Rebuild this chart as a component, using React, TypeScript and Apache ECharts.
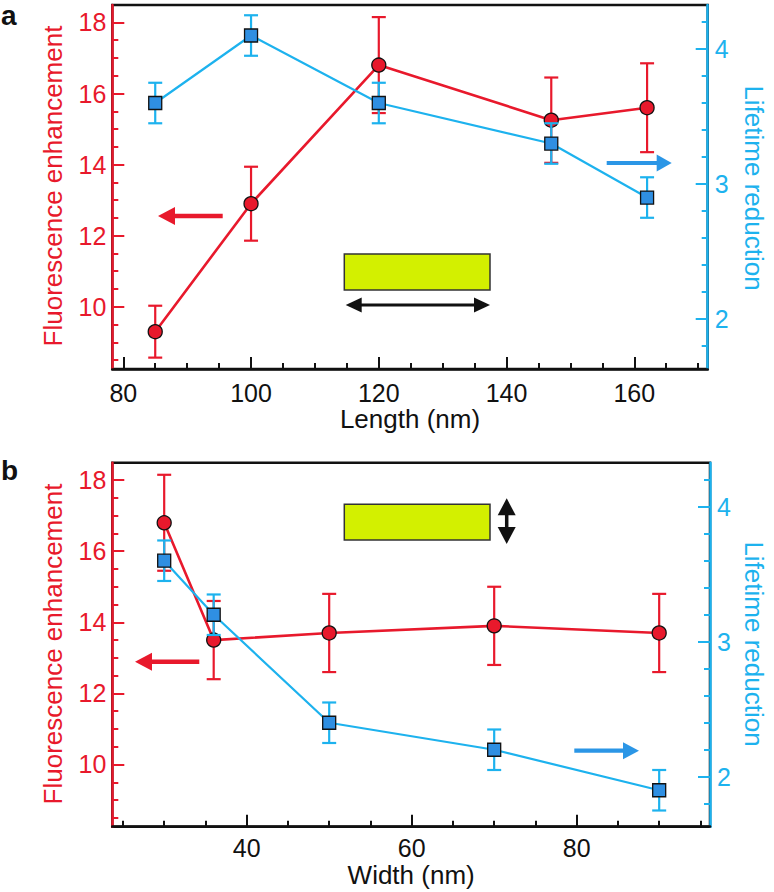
import React, { useEffect, useRef } from "react";
import * as echarts from "echarts";

// ---------- data ----------
const lengthNm = [85, 100, 120, 147, 162];
const fluorByLength = [9.3, 12.9, 16.8, 15.25, 15.6];
const fluorByLengthErr = [0.73, 1.04, 1.35, 1.2, 1.25];
const lifetimeByLength = [3.6, 4.1, 3.6, 3.3, 2.9];
const lifetimeByLengthErr = [0.15, 0.15, 0.15, 0.15, 0.15];

const widthNm = [30, 36, 50, 70, 90];
const fluorByWidth = [16.8, 13.5, 13.7, 13.9, 13.7];
const fluorByWidthErr = [1.35, 1.1, 1.1, 1.1, 1.1];
const lifetimeByWidth = [3.6, 3.2, 2.4, 2.2, 1.9];
const lifetimeByWidthErr = [0.15, 0.15, 0.15, 0.15, 0.15];

// ---------- ticks ----------
const lengthTicks = [80, 100, 120, 140, 160];
const lengthMinorTicks = [85, 90, 95, 105, 110, 115, 125, 130, 135, 145, 150, 155, 165, 170];
const widthTicks = [40, 60, 80];
const widthMinorTicks = [25, 30, 35, 45, 50, 55, 65, 70, 75, 85, 90, 95];
const fluorTicks = [10, 12, 14, 16, 18];
const fluorMinorTicks = [8.5, 9, 9.5, 10.5, 11, 11.5, 12.5, 13, 13.5, 14.5, 15, 15.5, 16.5, 17, 17.5];
const lifetimeTicks = [2, 3, 4];
const lifetimeMinorTicks = [1.8, 2.2, 2.4, 2.6, 2.8, 3.2, 3.4, 3.6, 3.8, 4.2];

const RED = "#e8192c";
const CYAN = "#1db2ee";
const SQUARE = "#2f8fe2";
const ARROW_BLUE = "#2b96e6";
const YELLOW = "#d3f000";
const FONT = "'Liberation Sans', Arial, Helvetica, sans-serif";

const fluorRange = [8.25, 18.49];
const lifetimeRange = [1.63, 4.326];

function mainX(gridIndex: number, min: number, max: number, ticks: number[], name: string, margin: number, nameGap: number) {
  return {
    type: "value", gridIndex, min, max, position: "bottom",
    name, nameLocation: "middle", nameGap,
    nameTextStyle: { fontSize: 26, color: "#111", fontFamily: FONT },
    axisLine: { show: true, onZero: false, lineStyle: { color: "#111", width: 2.5 } },
    axisTick: { show: true, inside: true, length: 12, customValues: ticks, lineStyle: { color: "#111", width: 2 } },
    axisLabel: { show: true, customValues: ticks, margin, fontSize: 25, color: "#111", fontFamily: FONT },
    splitLine: { show: false },
  };
}
function minorX(gridIndex: number, min: number, max: number, ticks: number[]) {
  return {
    type: "value", gridIndex, min, max, position: "bottom",
    axisLine: { show: false, onZero: false },
    axisTick: { show: true, inside: true, length: 6, customValues: ticks, lineStyle: { color: "#111", width: 2 } },
    axisLabel: { show: false },
    splitLine: { show: false },
  };
}
function mainY(gridIndex: number, range: number[], ticks: number[], pos: string, color: string, margin: number) {
  return {
    type: "value", gridIndex, min: range[0], max: range[1], position: pos,
    axisLine: { show: true, onZero: false, lineStyle: { color, width: 2.5 } },
    axisTick: { show: true, inside: true, length: 12, customValues: ticks, lineStyle: { color, width: 2 } },
    axisLabel: { show: true, customValues: ticks, margin, fontSize: 25, color, fontFamily: FONT },
    splitLine: { show: false },
  };
}
function minorY(gridIndex: number, range: number[], ticks: number[], pos: string, color: string) {
  return {
    type: "value", gridIndex, min: range[0], max: range[1], position: pos,
    axisLine: { show: false, onZero: false },
    axisTick: { show: true, inside: true, length: 6, customValues: ticks, lineStyle: { color, width: 2 } },
    axisLabel: { show: false },
    splitLine: { show: false },
  };
}

function errorBars(xs: number[], ys: number[], errs: number[], xAxisIndex: number, yAxisIndex: number, color: string, z: number) {
  return {
    type: "custom", xAxisIndex, yAxisIndex, z, silent: true,
    data: xs.map((x, i) => [x, ys[i], errs[i]]),
    encode: { x: 0, y: 1 },
    renderItem: (_params: any, api: any) => {
      const x = api.value(0), y = api.value(1), e = api.value(2);
      const top = api.coord([x, y + e]);
      const bot = api.coord([x, y - e]);
      const hw = 7;
      const style = { stroke: color, lineWidth: 2.2, fill: "none" };
      return {
        type: "group",
        children: [
          { type: "line", shape: { x1: top[0], y1: top[1], x2: bot[0], y2: bot[1] }, style },
          { type: "line", shape: { x1: top[0] - hw, y1: top[1], x2: top[0] + hw, y2: top[1] }, style },
          { type: "line", shape: { x1: bot[0] - hw, y1: bot[1], x2: bot[0] + hw, y2: bot[1] }, style },
        ],
      };
    },
  };
}

function lineSeries(xs: number[], ys: number[], xAxisIndex: number, yAxisIndex: number, kind: "circle" | "rect", z: number) {
  const isCircle = kind === "circle";
  return {
    type: "line", xAxisIndex, yAxisIndex, z,
    data: xs.map((x, i) => [x, ys[i]]),
    symbol: kind, symbolSize: isCircle ? 14 : 13,
    lineStyle: { color: isCircle ? RED : CYAN, width: isCircle ? 2.6 : 2.2 },
    itemStyle: { color: isCircle ? RED : SQUARE, borderColor: "#111", borderWidth: 1.3 },
    emphasis: { disabled: true },
  };
}

function arrowHead(tipX: number, tipY: number, dx: number, dy: number, len: number, half: number, color: string) {
  const bx = tipX - dx * len, by = tipY - dy * len;
  const px = -dy * half, py = dx * half;
  return { type: "polygon", shape: { points: [[tipX, tipY], [bx + px, by + py], [bx - px, by - py]] }, style: { fill: color } };
}
function hArrow(x1: number, x2: number, y: number, color: string, w: number, headLen: number, headHalf: number) {
  const dir = x2 > x1 ? 1 : -1;
  return [
    { type: "line", shape: { x1, y1: y, x2: x2 - dir * (headLen - 1), y2: y }, style: { stroke: color, lineWidth: w } },
    arrowHead(x2, y, dir, 0, headLen, headHalf, color),
  ];
}
function hDoubleArrow(x1: number, x2: number, y: number, color: string, w: number, headLen: number, headHalf: number) {
  return [
    { type: "line", shape: { x1: x1 + headLen - 1, y1: y, x2: x2 - headLen + 1, y2: y }, style: { stroke: color, lineWidth: w } },
    arrowHead(x1, y, -1, 0, headLen, headHalf, color),
    arrowHead(x2, y, 1, 0, headLen, headHalf, color),
  ];
}
function vDoubleArrow(x: number, y1: number, y2: number, color: string, w: number, headLen: number, headHalf: number) {
  return [
    { type: "line", shape: { x1: x, y1: y1 + headLen - 1, x2: x, y2: y2 - headLen + 1 }, style: { stroke: color, lineWidth: w } },
    arrowHead(x, y1, 0, -1, headLen, headHalf, color),
    arrowHead(x, y2, 0, 1, headLen, headHalf, color),
  ];
}

export default function App() {
  const ref = useRef<HTMLDivElement>(null);
  useEffect(() => {
    if (!ref.current) return;
    const chart = echarts.init(ref.current, null, { renderer: "svg" });
    const gridA = { left: 112.3, right: 66.3, top: 5, height: 364 };
    const gridB = { left: 112.3, right: 64, top: 462.7, height: 364 };
    const gridStyle = { show: true, borderColor: "#111", borderWidth: 2.5, backgroundColor: "transparent" };

    const graphic: any[] = [
      { type: "text", x: 1, y: 1, style: { text: "a", fontSize: 28, fontWeight: "bold", fontFamily: FONT, fill: "#111", textVerticalAlign: "top" } },
      { type: "text", x: 1, y: 456, style: { text: "b", fontSize: 28, fontWeight: "bold", fontFamily: FONT, fill: "#111", textVerticalAlign: "top" } },
      { type: "text", x: 53, y: 186, rotation: Math.PI / 2, style: { text: "Fluorescence enhancement", fontSize: 26, fontFamily: FONT, fill: RED, textAlign: "center", textVerticalAlign: "middle" } },
      { type: "text", x: 53, y: 644, rotation: Math.PI / 2, style: { text: "Fluorescence enhancement", fontSize: 26, fontFamily: FONT, fill: RED, textAlign: "center", textVerticalAlign: "middle" } },
      { type: "text", x: 754, y: 188, rotation: -Math.PI / 2, style: { text: "Lifetime reduction", fontSize: 26, fontFamily: FONT, fill: CYAN, textAlign: "center", textVerticalAlign: "middle" } },
      { type: "text", x: 754, y: 644, rotation: -Math.PI / 2, style: { text: "Lifetime reduction", fontSize: 26, fontFamily: FONT, fill: CYAN, textAlign: "center", textVerticalAlign: "middle" } },
      // panel a annotations
      { type: "rect", shape: { x: 344.3, y: 254, width: 145.7, height: 36 }, style: { fill: YELLOW, stroke: "#333", lineWidth: 1.5 } },
      ...hArrow(222.7, 158, 216, RED, 4.5, 17, 9),
      ...hArrow(606.7, 671.7, 163, ARROW_BLUE, 4.2, 15, 8.5),
      ...hDoubleArrow(345.7, 490, 305, "#111", 3, 16, 7.5),
      // panel b annotations
      { type: "rect", shape: { x: 344.3, y: 504.3, width: 145.7, height: 35.7 }, style: { fill: YELLOW, stroke: "#333", lineWidth: 1.5 } },
      ...hArrow(199.3, 135, 661.7, RED, 4.5, 17, 9),
      ...hArrow(574.3, 639, 750.7, ARROW_BLUE, 4.2, 16, 8.5),
      ...vDoubleArrow(506.7, 498.3, 544, "#111", 3.5, 17, 9),
    ];

    const option: any = {
      animation: false,
      textStyle: { fontFamily: FONT },
      grid: [{ ...gridA, ...gridStyle }, { ...gridB, ...gridStyle }],
      xAxis: [
        mainX(0, 78.28, 171.49, lengthTicks, "Length (nm)", 11, 35),
        minorX(0, 78.28, 171.49, lengthMinorTicks),
        mainX(1, 23.71, 96.16, widthTicks, "Width (nm)", 9, 28),
        minorX(1, 23.71, 96.16, widthMinorTicks),
      ],
      yAxis: [
        mainY(0, fluorRange, fluorTicks, "left", RED, 6),
        minorY(0, fluorRange, fluorMinorTicks, "left", RED),
        mainY(0, lifetimeRange, lifetimeTicks, "right", CYAN, 7),
        minorY(0, lifetimeRange, lifetimeMinorTicks, "right", CYAN),
        mainY(1, fluorRange, fluorTicks, "left", RED, 6),
        minorY(1, fluorRange, fluorMinorTicks, "left", RED),
        mainY(1, lifetimeRange, lifetimeTicks, "right", CYAN, 7),
        minorY(1, lifetimeRange, lifetimeMinorTicks, "right", CYAN),
      ],
      series: [
        errorBars(lengthNm, fluorByLength, fluorByLengthErr, 0, 0, RED, 2),
        lineSeries(lengthNm, fluorByLength, 0, 0, "circle", 3),
        errorBars(lengthNm, lifetimeByLength, lifetimeByLengthErr, 0, 2, CYAN, 4),
        lineSeries(lengthNm, lifetimeByLength, 0, 2, "rect", 5),
        errorBars(widthNm, fluorByWidth, fluorByWidthErr, 2, 4, RED, 2),
        lineSeries(widthNm, fluorByWidth, 2, 4, "circle", 3),
        errorBars(widthNm, lifetimeByWidth, lifetimeByWidthErr, 2, 6, CYAN, 4),
        lineSeries(widthNm, lifetimeByWidth, 2, 6, "rect", 5),
      ],
      graphic,
    };
    chart.setOption(option);
    return () => chart.dispose();
  }, []);
  return <div ref={ref} style={{ position: "fixed", left: 0, top: 0, width: 774, height: 892, background: "#fff" }} />;
}
